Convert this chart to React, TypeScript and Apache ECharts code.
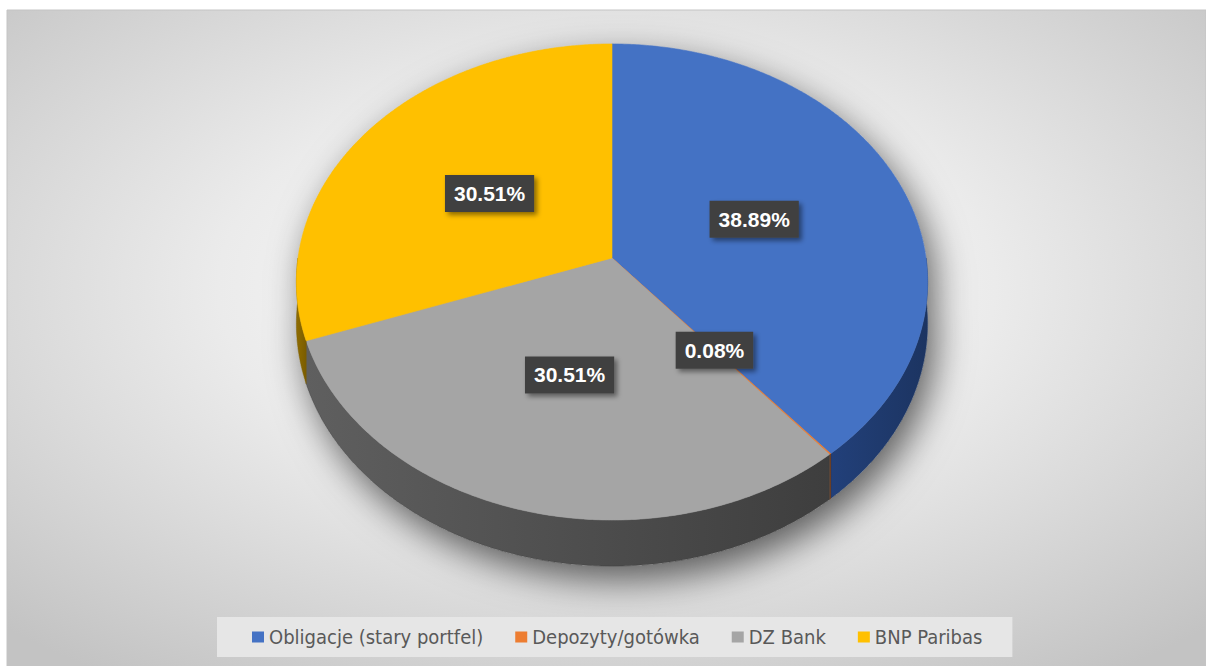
import React, { useEffect, useRef } from "react";
import * as echarts from "echarts";

const categories = ["Obligacje (stary portfel)", "Depozyty/gotówka", "DZ Bank", "BNP Paribas"];
const values = [38.89, 0.08, 30.51, 30.51];
const topColors = ["#4472C4", "#ED7D31", "#A5A5A5", "#FFC000"];
const sideColors = [
  ["#22407a", "#1c3461"],
  ["#8a4210", "#6e340c"],
  ["#5f5f5f", "#3e3e3e"],
  ["#8f6c00", "#7a5c00"],
];

// 3D perspective geometry of the pie
const CX = 612;
const CY = 258;
const RX = 314;
const RY = 235.6;
const K = 0.1008;
const H = 41.4;

function proj(deg: number, f: number, down: boolean): number[] {
  const t = (deg * Math.PI) / 180;
  const X = f * Math.sin(t);
  const Z = -f * Math.cos(t);
  const d = 1 - K * Z;
  return [CX + (RX * X) / d, CY + (RY * Z) / d + (down ? H / d : 0)];
}

function arc(a0: number, a1: number, down: boolean): number[][] {
  const pts: number[][] = [];
  const n = Math.max(2, Math.ceil(Math.abs(a1 - a0) / 0.5));
  for (let i = 0; i <= n; i++) {
    pts.push(proj(a0 + ((a1 - a0) * i) / n, 1, down));
  }
  return pts;
}

const total = values.reduce((a, b) => a + b, 0);

function makeRenderItem(idx: number) {
  return (params: any, api: any) => {
    const before = values.slice(0, idx).reduce((a, b) => a + b, 0);
    const v = api.value(0);
    const start = (before / total) * 360;
    const end = start + (v / total) * 360;
    const children: any[] = [];
    const s0 = Math.max(start, 90);
    const s1 = Math.min(end, 270);
    if (s1 > s0) {
      const pts = arc(s0, s1, false).concat(arc(s1, s0, true));
      children.push({
        type: "polygon",
        shape: { points: pts },
        style: {
          fill: new echarts.graphic.LinearGradient(0, 0, 1, 0, [
            { offset: 0, color: sideColors[idx][0] },
            { offset: 1, color: sideColors[idx][1] },
          ]),
          stroke: sideColors[idx][1],
          lineWidth: 0.5,
        },
      });
    }
    const topPts = [proj(0, 0, false)].concat(arc(start, end, false));
    children.push({
      type: "polygon",
      shape: { points: topPts },
      style: { fill: topColors[idx], stroke: topColors[idx], lineWidth: 0.6 },
    });
    const mid = (start + end) / 2;
    const lp = proj(mid, 0.49, false);
    children.push({
      type: "text",
      x: lp[0],
      y: lp[1],
      z2: 100,
      style: {
        text: ((v / total) * 100).toFixed(2) + "%",
        fill: "#ffffff",
        font: "bold 21px 'Liberation Sans', Arial, sans-serif",
        align: "center",
        verticalAlign: "middle",
        backgroundColor: "#404040",
        padding: [8, 9, 7, 9],
        lineHeight: 22,
        shadowBlur: 5,
        shadowColor: "rgba(0,0,0,0.45)",
        shadowOffsetX: 3,
        shadowOffsetY: 3,
      },
    });
    return { type: "group", children };
  };
}

export default function App() {
  const ref = useRef<HTMLDivElement>(null);
  useEffect(() => {
    if (!ref.current) return;
    const chart = echarts.init(ref.current, undefined, { renderer: "svg" });
    const silhouette = arc(270, 450, false).concat(arc(90, 270, true));
    const option: any = {
      animation: false,
      graphic: [
        {
          type: "rect",
          z: -10,
          shape: { x: 7, y: 10, width: 1199, height: 660 },
          style: {
            fill: new echarts.graphic.RadialGradient(0.5, 0.42, 0.72, [
              { offset: 0, color: "#ffffff" },
              { offset: 0.45, color: "#ebebeb" },
              { offset: 1, color: "#c3c3c3" },
            ]),
            stroke: "#c4c4c4",
            lineWidth: 1,
          },
        },
        {
          type: "polygon",
          z: -5,
          shape: { points: silhouette },
          style: {
            fill: "#bdbdbd",
            shadowBlur: 36,
            shadowColor: "rgba(0,0,0,0.6)",
            shadowOffsetX: 8,
            shadowOffsetY: 14,
          },
        },
      ],
      legend: {
        data: categories,
        left: 217,
        top: 617,
        padding: [10, 30, 10, 35],
        backgroundColor: "#e6e6e6",
        icon: "rect",
        itemWidth: 12,
        itemHeight: 11,
        itemGap: 32,
        selectedMode: false,
        textStyle: {
          color: "#595959",
          fontSize: 20,
          fontFamily: "'Liberation Sans Narrow', 'DejaVu Sans Condensed', 'Liberation Sans', sans-serif",
        },
      },
      series: categories.map((name, i) => ({
        type: "custom",
        name,
        coordinateSystem: "none",
        itemStyle: { color: topColors[i] },
        renderItem: makeRenderItem(i),
        data: [[values[i]]],
      })),
    };
    chart.setOption(option);
    return () => chart.dispose();
  }, []);
  return (
    <div
      ref={ref}
      style={{ position: "absolute", left: 0, top: 0, width: 1206, height: 666 }}
    />
  );
}
